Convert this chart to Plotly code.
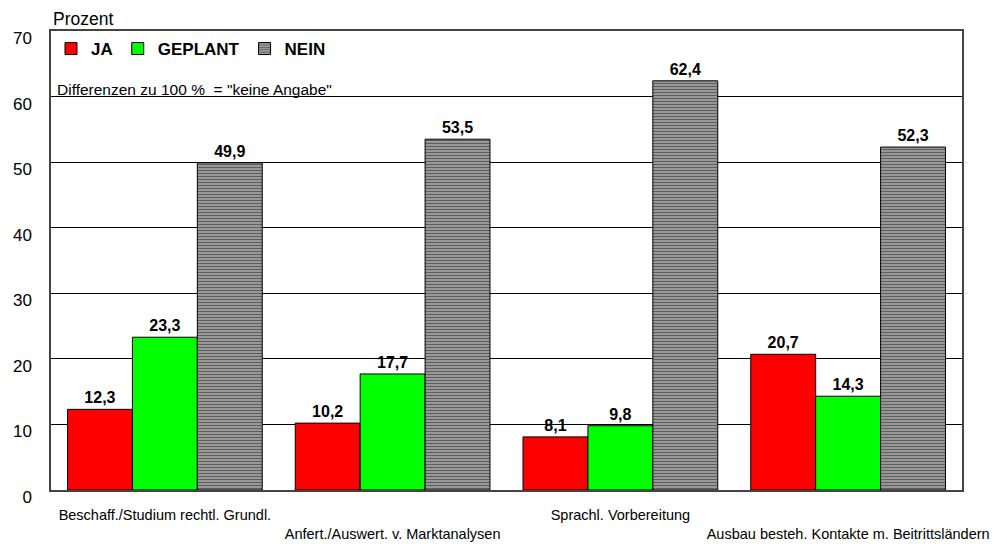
import plotly.graph_objects as go

categories = ["Beschaff./Studium rechtl. Grundl.",
              "Anfert./Auswert. v. Marktanalysen",
              "Sprachl. Vorbereitung",
              "Ausbau besteh. Kontakte m. Beitrittsländern"]
ja = [12.3, 10.2, 8.1, 20.7]
geplant = [23.3, 17.7, 9.8, 14.3]
nein = [49.9, 53.5, 62.4, 52.3]
y_ticks = [0, 10, 20, 30, 40, 50, 60, 70]

FONT = "Arial, Liberation Sans, sans-serif"

# staggered category labels: every second one goes down a row
tick_text = [c if i % 2 == 0 else "<br>" + c for i, c in enumerate(categories)]


def de(v):
    return f"{v:.1f}".replace(".", ",")


fig = go.Figure()
fig.add_trace(go.Bar(x=categories, y=ja, name="JA", marker=dict(color="#ff0000", line=dict(color="black", width=1)),
                     text=[de(v) for v in ja]))
fig.add_trace(go.Bar(x=categories, y=geplant, name="GEPLANT",
                     marker=dict(color="#00ff00", line=dict(color="black", width=1)),
                     text=[de(v) for v in geplant]))
fig.add_trace(go.Bar(x=categories, y=nein, name="NEIN",
                     marker=dict(color="white", line=dict(color="black", width=1),
                                 pattern=dict(shape="-", fgcolor="#111", bgcolor="#aaa", size=3, solidity=0.5)),
                     text=[de(v) for v in nein]))

fig.update_traces(textposition="outside", cliponaxis=False,
                  textfont=dict(family=FONT, size=16, color="black", weight="bold"))

fig.add_annotation(xref="paper", yref="y", x=0.004, y=60, xanchor="left", yanchor="bottom",
                   text='Differenzen zu 100 %  = "keine Angabe"', showarrow=False, yshift=-3,
                   font=dict(family=FONT, size=15.5, color="black"))
fig.add_annotation(xref="paper", yref="paper", x=0.0, y=1.0, xanchor="left", yanchor="bottom",
                   text="Prozent", showarrow=False, yshift=0,
                   font=dict(family=FONT, size=17.5, color="black"))

# the page body has an 8px margin, so the figure is a bit smaller than the window
fig.update_layout(
    width=999, height=536,
    margin=dict(l=43, r=45, t=23, b=54),
    plot_bgcolor="white", paper_bgcolor="white",
    barmode="group", bargap=0.145, bargroupgap=0,
    font=dict(family=FONT, color="black"),
    showlegend=True,
    legend=dict(orientation="h", x=0.0, y=1.0, xanchor="left", yanchor="top",
                font=dict(family=FONT, size=17, color="black", weight="bold"),
                bgcolor="rgba(0,0,0,0)", itemwidth=30, tracegroupgap=0,
                traceorder="normal"),
)
fig.update_yaxes(range=[0, 70], tickvals=y_ticks, showgrid=True, gridcolor="black", gridwidth=1,
                 showline=True, linecolor="#444", linewidth=1.5, mirror=True, automargin=False,
                 ticks="", ticklabelstandoff=14, ticklabelshift=7, zeroline=False,
                 tickfont=dict(family=FONT, size=17, color="black"))
fig.update_xaxes(tickvals=categories, ticktext=tick_text, showline=True, linecolor="#444", linewidth=1.5,
                 mirror=True, ticks="", automargin=False, ticklabelstandoff=11, tickangle=0,
                 tickfont=dict(family=FONT, size=14.5, color="black"))

fig.write_html("out.html")
